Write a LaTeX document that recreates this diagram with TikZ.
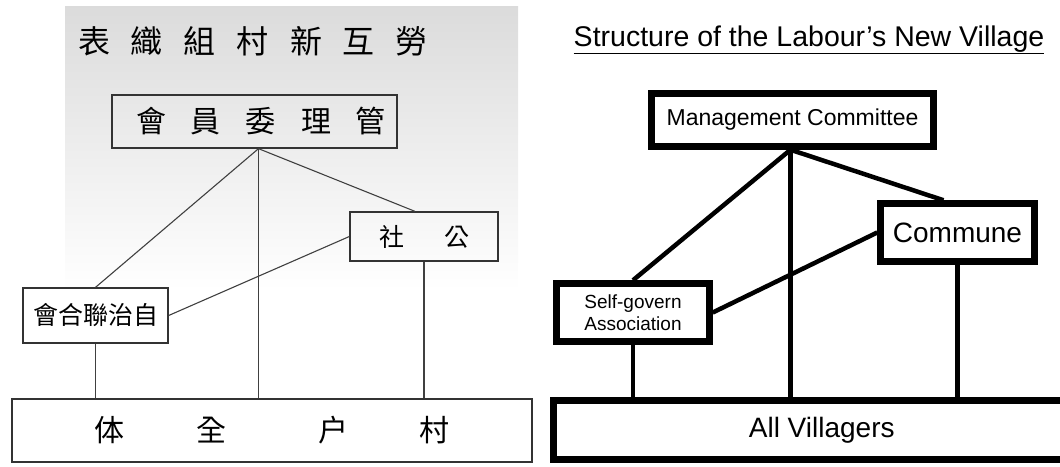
\documentclass[tikz,border=0pt]{standalone}
\usepackage{fontspec}
\setmainfont{Liberation Sans}
\newfontfamily\cjk{Noto Sans CJK TC}
\usepackage{tikz}
\usetikzlibrary{arrows,shapes}
\newcommand{\cgap}[1]{\hspace{#1pt}}
\newcommand{\pxfont}[1]{\fontsize{#1}{#1}\selectfont}
\tikzstyle{oldbox}=[draw=black!80, line width=1.3pt, inner sep=0pt]
\tikzstyle{newbox}=[draw, line width=6.5pt, fill=white, inner sep=0pt]
\tikzstyle{oldedge}=[draw=black!75, line width=1.1pt, -]
\tikzstyle{newedge}=[draw, line width=4.5pt, -]

\begin{document}
\begin{tikzpicture}[x=1pt, y=-1pt]
		\useasboundingbox (0,0) rectangle (1060,466);
		% Left half: the old printed chart
		\shade[top color=black!14, bottom color=white] (65,6) rectangle (518,290);
		\node[font={\cjk\pxfont{32}}] (otitle) at (253,41)
			{表\cgap{21}織\cgap{21}組\cgap{21}村\cgap{21}新\cgap{21}互\cgap{21}勞};
		
		\foreach \pos/\label/\w/\h/\sz/\name in {
			{(254.5,121.5)/omgmt/285/53/30/\cgap{13}會\cgap{25}員\cgap{25}委\cgap{25}理\cgap{25}管},
			{(424,236.5)/ocommune/148/49/25/社\cgap{40}公},
			{(95.5,315.5)/oself/145/55/25/會合聯治自},
			{(272,430.5)/ovillage/520/63/30/体\cgap{72}全\cgap{92}户\cgap{71}村\cgap{23}}}
		\node[oldbox, minimum width=\w pt, minimum height=\h pt, font={\cjk\pxfont{\sz}}] (\label) at \pos {\name};
		
		\coordinate (otop) at ([xshift=4pt]omgmt.south);
		\coordinate (ocomtop) at ([xshift=-9pt]ocommune.north);
		
		% Connect boxes with lines
		\foreach \source/\dest in {
			otop/oself.north, otop/ocomtop, otop/otop |- ovillage.north,
			oself.east/ocommune.west, oself.south/oself.south |- ovillage.north,
			ocommune.south/ocommune.south |- ovillage.north}
		\path[oldedge] (\source) -- (\dest);
		
		% Right half: the English version
		\node[font=\pxfont{28.5}] (etitle) at (809,40) {\underline{Structure of the Labour’s New Village}};
		
		\node[newbox, minimum width=282pt, minimum height=53pt, font=\pxfont{23}] (emgmt) at (792.5,120) {Management Committee};
		\node[newbox, minimum width=154pt, minimum height=58pt, font=\pxfont{28}] (ecommune) at (957.5,232.5) {Commune};
		\node[newbox, minimum width=153pt, minimum height=58pt, font={\fontsize{19}{22}\selectfont}, align=center] (eself) at (633,312.5) {Self-govern\\Association};
		\node[newbox, minimum width=536.5pt, minimum height=59pt, font=\pxfont{28}] (evillage) at (821.75,430) {All Villagers\hspace{59.5pt}};
		
		\coordinate (etop) at ([xshift=-2pt]emgmt.south);
		\coordinate (ecomtop) at ([xshift=-14pt]ecommune.north);
		
		\foreach \source/\dest in {
			etop/eself.north, etop/ecomtop, etop/etop |- evillage.north,
			eself.east/ecommune.west, eself.south/eself.south |- evillage.north,
			ecommune.south/ecommune.south |- evillage.north}
		\path[newedge] (\source) -- (\dest);
\end{tikzpicture}
\end{document}
